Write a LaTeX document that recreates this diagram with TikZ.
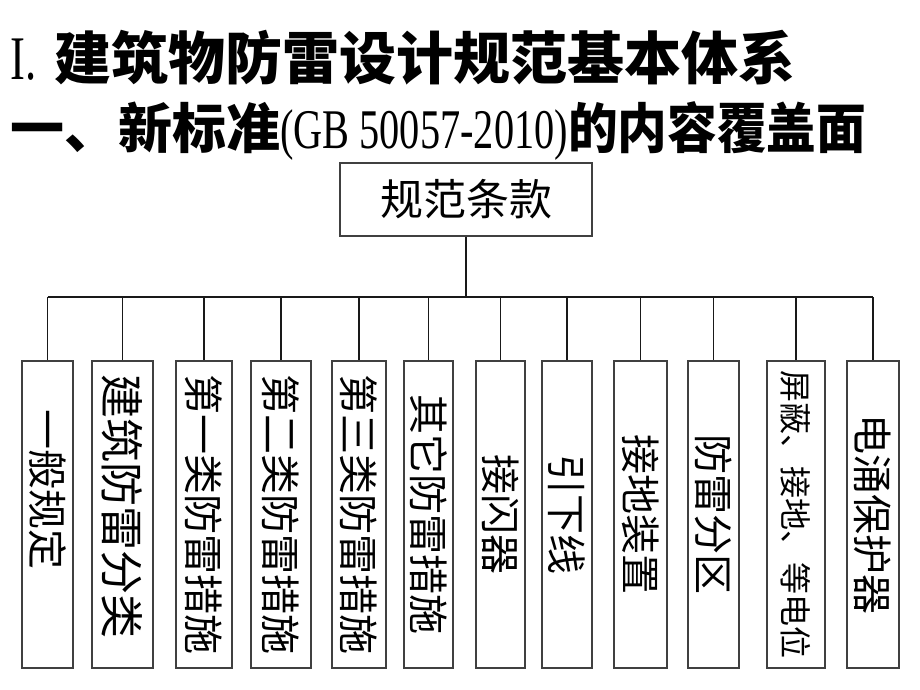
\documentclass[tikz,border=0pt]{standalone}
\usepackage{fontspec}
\usepackage{graphicx}
\setmainfont{Liberation Serif}
\newfontfamily\latn[FakeStretch=0.72]{Liberation Serif}
\newfontfamily\cjk{Noto Sans CJK SC}
\newfontfamily\cjkn[FakeStretch=0.92]{Noto Sans CJK SC}
\tikzset{
  leaf/.style={draw=black!75, line width=1.3pt, inner sep=0pt, minimum height=307pt,
    font=\cjk\fontsize{40}{40}\selectfont},
  rootbox/.style={draw=black!75, line width=1.3pt, inner sep=0pt,
    minimum width=252pt, minimum height=73pt, font=\cjk\fontsize{43}{43}\selectfont},
  titletext/.style={anchor=base west, inner sep=0pt},
  link/.style={line width=1.8pt, black!90}
}
\begin{document}
\begin{tikzpicture}[x=1pt, y=-1pt]
\useasboundingbox (0,0) rectangle (920,690);
% titles
\node[titletext] (t1) at (10,80)
  {{\latn\fontsize{62}{62}\selectfont I.}\hspace{18pt}{\cjk\bfseries\fontsize{57}{60}\selectfont 建筑物防雷设计规范基本体系}};
\node[titletext] (t2) at (10,148)
  {{\cjk\bfseries\fontsize{54}{60}\selectfont 一、新标准}{\latn\fontsize{56}{60}\selectfont (GB 50057-2010)}{\cjkn\bfseries\fontsize{54}{60}\selectfont 的内容覆盖面}};
% root
\node[rootbox] (top) at (466,199.5) {规范条款};
% leaves
\node[leaf, minimum width=51pt] (b1)  at (47.5,514.5) {\rotatebox{-90}{一般规定\hspace{51pt}}};
\node[leaf, minimum width=61pt, font=\cjk\fontsize{44}{44}\selectfont] (b2)  at (122.5,514.5) {\rotatebox{-90}{建筑防雷分类\hspace{17pt}}};
\node[leaf, minimum width=56pt] (b3)  at (204,514.5) {\rotatebox{-90}{第一类防雷措施}};
\node[leaf, minimum width=60pt] (b4)  at (281,514.5) {\rotatebox{-90}{第二类防雷措施}};
\node[leaf, minimum width=54pt] (b5)  at (359,514.5) {\rotatebox{-90}{第三类防雷措施}};
\node[leaf, minimum width=49pt] (b6)  at (428.5,514.5) {\rotatebox{-90}{其它防雷措施}};
\node[leaf, minimum width=49pt] (b7)  at (500.5,514.5) {\rotatebox{-90}{接闪器}};
\node[leaf, minimum width=50pt] (b8)  at (567,514.5) {\rotatebox{-90}{引下线}};
\node[leaf, minimum width=53pt] (b9)  at (640.5,514.5) {\rotatebox{-90}{接地装置}};
\node[leaf, minimum width=51pt] (b10) at (713.5,514.5) {\rotatebox{-90}{防雷分区}};
\node[leaf, minimum width=58pt, font=\cjk\fontsize{32}{32}\selectfont] (b11) at (796,514.5) {\rotatebox{-90}{屏蔽、接地、等电位}};
\node[leaf, minimum width=52pt] (b12) at (873,514.5) {\rotatebox{-90}{电涌保护器}};
% connectors
\coordinate (bus) at (463,297);
\draw[link] (top.south) -- (top.south |- bus);
\draw[link] (b1.north |- bus) -- (b12.north |- bus);
\foreach \i in {1,...,12} \draw[link] (b\i.north |- bus) -- (b\i.north);
\end{tikzpicture}
\end{document}
